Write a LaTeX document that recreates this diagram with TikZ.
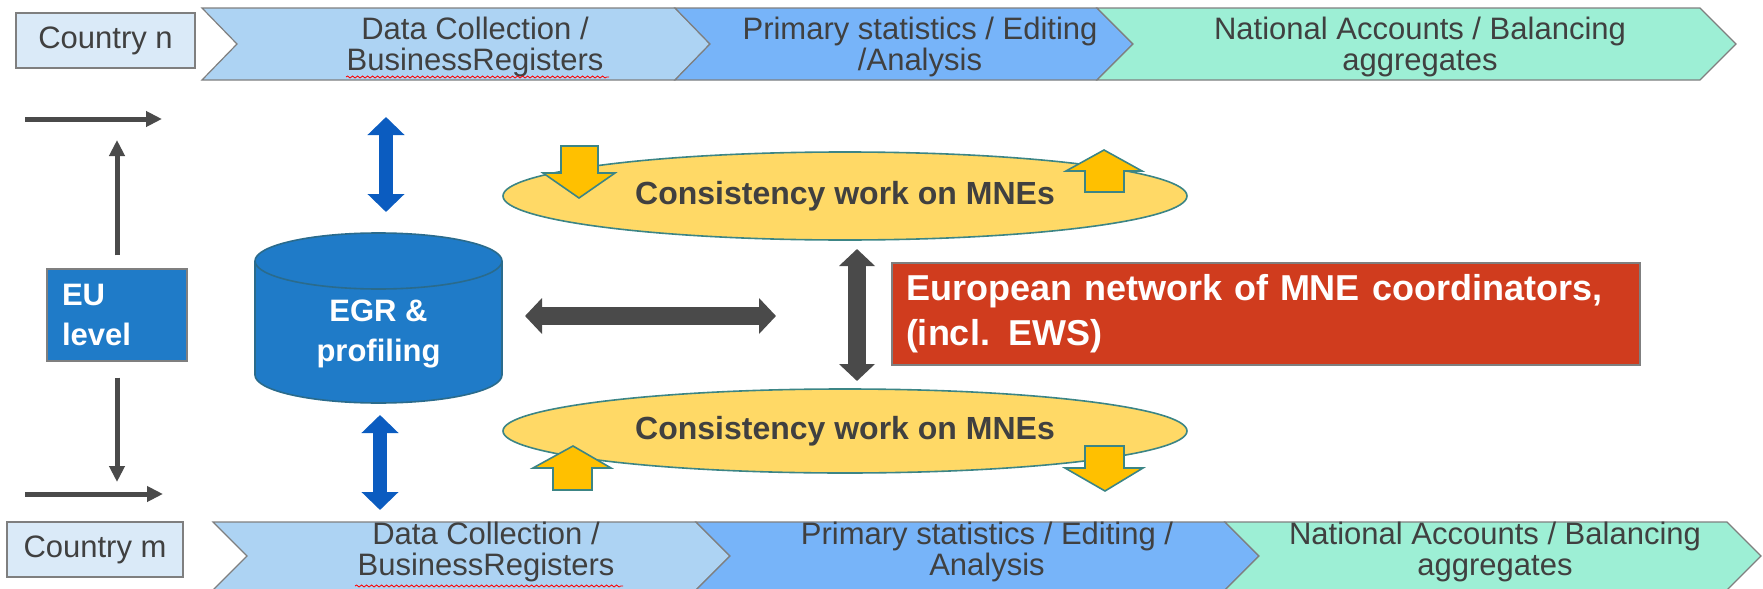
\documentclass[tikz,border=0pt]{standalone}
\usepackage{fontspec}
\setmainfont{Liberation Sans}
\usetikzlibrary{arrows.meta,shapes.geometric,decorations.pathmorphing}

\definecolor{txtgray}{HTML}{404040}
\definecolor{boxline}{HTML}{7F7F7F}
\definecolor{countryfill}{HTML}{DAEAF8}
\definecolor{chevA}{HTML}{ADD3F3}
\definecolor{chevB}{HTML}{77B4F9}
\definecolor{chevC}{HTML}{9DEFD5}
\definecolor{eublue}{HTML}{1F7BC8}
\definecolor{cylline}{HTML}{2A6B8C}
\definecolor{arrowblue}{HTML}{0B5CC0}
\definecolor{arrowgray}{HTML}{4A4A4A}
\definecolor{mnefill}{HTML}{FFD966}
\definecolor{mneline}{HTML}{3C8585}
\definecolor{orangearrow}{HTML}{FFC000}
\definecolor{netred}{HTML}{D03C1E}

\tikzset{
  chev/.style={draw=boxline, line width=0.6pt},
  rowtext/.style={text=txtgray, align=center, inner sep=0pt, font=\fontsize{15.5}{15.5}\selectfont},
  countrybox/.style={draw=boxline, fill=countryfill, line width=0.6pt, text=txtgray, inner sep=0pt, font=\fontsize{15.5}{16}\selectfont},
  bluebox/.style={draw=boxline, fill=eublue, line width=0.6pt, text=white, font=\bfseries\fontsize{15.5}{20}\selectfont},
  mne/.style={ellipse, draw=mneline, fill=mnefill, line width=0.8pt, inner sep=0pt, text=txtgray, font=\bfseries\fontsize{16}{16}\selectfont},
  updown/.style={draw=mneline, fill=orangearrow, line width=0.8pt},
  bluearrow/.style={draw=arrowblue, line width=7pt, {Triangle[width=18pt,length=9pt]}-{Triangle[width=18pt,length=9pt]}},
  grayarrow/.style={draw=arrowgray, line width=9pt, {Triangle[width=17.5pt,length=8.5pt]}-{Triangle[width=17.5pt,length=8.5pt]}},
  thinarrow/.style={draw=arrowgray, line width=2.5pt, -{Triangle[width=7.5pt,length=8pt]}},
  squiggle/.style={draw=red, line width=0.4pt, decorate, decoration={snake, amplitude=0.5pt, segment length=2.5pt}},
}

\begin{document}
\begin{tikzpicture}[x=0.5pt,y=-0.5pt]
\useasboundingbox (0,0) rectangle (1763,589);

% country n
\node[countrybox, minimum width=89.5pt, minimum height=27.5pt] (cn) at (105.5,40.5) {Country n};
\draw[chev, fill=chevA] (202,8) -- (675,8) -- (710,44) -- (675,80) -- (202,80) -- (237,44) -- cycle;
\draw[chev, fill=chevB] (675,8) -- (1097,8) -- (1133,44) -- (1097,80) -- (675,80) -- (710,44) -- cycle;
\draw[chev, fill=chevC] (1097,8) -- (1700,8) -- (1736,44) -- (1700,80) -- (1097,80) -- (1133,44) -- cycle;
\node[rowtext] (dcn) at (475,47) {Data Collection /\\BusinessRegisters};
\node[rowtext] (psn) at (920,47) {Primary statistics / Editing\\/Analysis};
\node[rowtext] (nan) at (1420,47) {National Accounts / Balancing\\aggregates};
\draw[squiggle] (346,77) -- (609,77);

% country m
\node[countrybox, minimum width=88pt, minimum height=27.5pt] (cm) at (95,549.5) {Country m};
\draw[chev, fill=chevA] (213,522) -- (696,522) -- (730,556) -- (696,590) -- (213,590) -- (247,556) -- cycle;
\draw[chev, fill=chevB] (696,522) -- (1225,522) -- (1259,556) -- (1225,590) -- (696,590) -- (730,556) -- cycle;
\draw[chev, fill=chevC] (1225,522) -- (1727,522) -- (1761,556) -- (1727,590) -- (1225,590) -- (1259,556) -- cycle;
\node[rowtext] (dcm) at (486,552) {Data Collection /\\BusinessRegisters};
\node[rowtext] (psm) at (987,552) {Primary statistics / Editing /\\Analysis};
\node[rowtext] (nam) at (1495,552) {National Accounts / Balancing\\aggregates};
\draw[squiggle] (355,586) -- (623,586);

% EU level
\node[bluebox, minimum width=70pt, minimum height=46pt, text width=55pt, inner xsep=7.5pt, inner ysep=0pt, align=left] (eu) at (117,315) {EU\\level};
\coordinate (lt1) at (25,119);
\coordinate (lt2) at (162,119);
\coordinate (lb1) at (25,494);
\coordinate (lb2) at (163,494);
\coordinate (eutop) at (117,140);
\coordinate (eubot) at (117,482);
\draw[thinarrow] (lt1) -- (lt2);
\draw[thinarrow] (lb1) -- (lb2);
\draw[thinarrow, shorten <=6.5pt] (eu.north) -- (eutop);
\draw[thinarrow, shorten <=8pt] (eu.south) -- (eubot);

% EGR cylinder
\draw[fill=eublue, draw=cylline, line width=0.8pt] (255,261) -- (255,375) arc[start angle=180, end angle=0, x radius=123.5, y radius=28] -- (502,261) arc[start angle=0, end angle=-180, x radius=123.5, y radius=28] -- cycle;
\draw[draw=cylline, line width=0.8pt] (255,261) arc[start angle=180, end angle=0, x radius=123.5, y radius=28];
\node[text=white, align=center, inner sep=0pt, font=\bfseries\fontsize{15.5}{20}\selectfont] (egr) at (378.5,333.5) {EGR \&\\profiling};
\coordinate (bt1) at (386,117);
\coordinate (bt2) at (386,212);
\coordinate (bb1) at (380,415);
\coordinate (bb2) at (380,510);
\draw[bluearrow] (bt1) -- (bt2);
\draw[bluearrow] (bb1) -- (bb2);

% consistency work
\node[mne, minimum width=342pt, minimum height=44pt] (mnetop) at (845,196) {Consistency work on MNEs};
\node[mne, minimum width=342pt, minimum height=42pt] (mnebot) at (845,431) {Consistency work on MNEs};
\draw[updown] (561,146) -- (598,146) -- (598,173) -- (615,173) -- (579,198) -- (543,173) -- (561,173) -- cycle;
\draw[updown] (1085,192) -- (1124,192) -- (1124,171) -- (1142,171) -- (1104,150) -- (1066,171) -- (1085,171) -- cycle;
\draw[updown] (553,490) -- (592,490) -- (592,468) -- (611,468) -- (573,446) -- (533,468) -- (553,468) -- cycle;
\draw[updown] (1085,446) -- (1124,446) -- (1124,468) -- (1143,468) -- (1105,491) -- (1065,468) -- (1085,468) -- cycle;

% network
\node[draw=boxline, fill=netred, line width=0.6pt, minimum height=51pt, text width=360pt, inner xsep=7pt, inner ysep=0pt, align=left, text=white, font=\bfseries\fontsize{18}{22.5}\selectfont] (net) at (1266,314) {European network of MNE coordinators,\\(incl. EWS)};
\coordinate (hl) at (525,316);
\coordinate (hr) at (776,316);
\coordinate (vt) at (857,249);
\coordinate (vb) at (857,381);
\draw[grayarrow] (hl) -- (hr);
\draw[grayarrow] (vt) -- (vb);
\end{tikzpicture}
\end{document}
